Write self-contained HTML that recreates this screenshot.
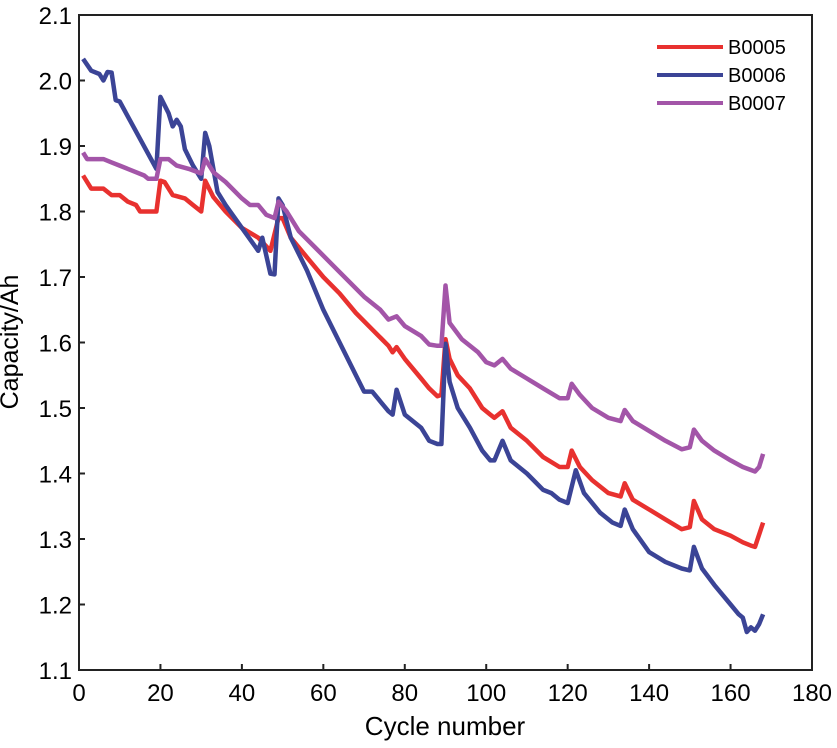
<!DOCTYPE html>
<html><head><meta charset="utf-8"><style>
html,body{margin:0;padding:0;background:#fff;}
svg{display:block;font-family:"Liberation Sans",Arial,sans-serif;}
</style></head><body>
<svg id="chart" width="837" height="748" viewBox="0 0 837 748">
<rect x="79" y="15" width="733" height="655" fill="none" stroke="#222" stroke-width="2"/>
<g id="ticks"></g>
<g id="series"></g>
<text x="18" y="342" font-size="25" text-anchor="middle" transform="rotate(-90 18 342)">Capacity/Ah</text>
<text x="445" y="735" font-size="26" text-anchor="middle">Cycle number</text>
<g>
<line x1="657" y1="47" x2="723" y2="47" stroke="#e8312f" stroke-width="4"/>
<text x="728" y="54" font-size="20">B0005</text>
<line x1="657" y1="75" x2="723" y2="75" stroke="#3b4496" stroke-width="4"/>
<text x="728" y="82" font-size="20">B0006</text>
<line x1="657" y1="103" x2="723" y2="103" stroke="#a355a8" stroke-width="4"/>
<text x="728" y="110" font-size="20">B0007</text>
</g>
</svg>
<script>
const xTicks=[0,20,40,60,80,100,120,140,160,180];
const yTicks=[1.1,1.2,1.3,1.4,1.5,1.6,1.7,1.8,1.9,2.0,2.1];
const yTickLabels=["1.1","1.2","1.3","1.4","1.5","1.6","1.7","1.8","1.9","2.0","2.1"];
const b0005=[[1,1.855],[3,1.835],[6,1.835],[8,1.825],[10,1.825],[12,1.815],[14,1.81],[15,1.8],[19,1.8],[20,1.847],[21,1.845],[23,1.825],[26,1.82],[28,1.81],[30,1.8],[31,1.847],[33,1.822],[36,1.8],[40,1.775],[44,1.76],[47,1.74],[49,1.79],[50,1.79],[52,1.76],[56,1.73],[60,1.7],[64,1.675],[68,1.645],[72,1.62],[76,1.595],[77,1.585],[78,1.593],[80,1.575],[84,1.545],[86,1.53],[88,1.518],[89,1.52],[90,1.605],[91,1.575],[93,1.55],[96,1.53],[99,1.5],[101,1.49],[102,1.485],[104,1.495],[106,1.47],[110,1.45],[114,1.425],[118,1.41],[120,1.41],[121,1.435],[123,1.41],[126,1.39],[130,1.37],[133,1.365],[134,1.385],[136,1.36],[140,1.345],[144,1.33],[148,1.315],[150,1.318],[151,1.358],[153,1.33],[156,1.315],[160,1.305],[163,1.295],[165,1.29],[166,1.288],[168,1.325]];
const b0006=[[1,2.033],[3,2.015],[5,2.01],[6,2.0],[7,2.013],[8,2.012],[9,1.97],[10,1.968],[19,1.865],[20,1.975],[22,1.95],[23,1.93],[24,1.94],[25,1.93],[26,1.895],[28,1.87],[30,1.85],[31,1.92],[32,1.9],[34,1.83],[36,1.81],[40,1.775],[44,1.74],[45,1.76],[47,1.705],[48,1.704],[49,1.82],[50,1.81],[52,1.76],[56,1.71],[60,1.65],[64,1.6],[68,1.55],[70,1.525],[72,1.525],[76,1.495],[77,1.49],[78,1.528],[80,1.49],[84,1.47],[86,1.45],[88,1.445],[89,1.445],[90,1.598],[91,1.54],[93,1.5],[96,1.47],[99,1.435],[101,1.42],[102,1.42],[104,1.45],[106,1.42],[110,1.4],[114,1.375],[116,1.37],[118,1.36],[120,1.355],[122,1.405],[124,1.37],[128,1.34],[131,1.325],[133,1.32],[134,1.345],[136,1.315],[140,1.28],[144,1.265],[148,1.255],[150,1.252],[151,1.288],[153,1.255],[156,1.23],[160,1.2],[162,1.185],[163,1.18],[164,1.158],[165,1.165],[166,1.16],[167,1.17],[168,1.185]];
const b0007=[[1,1.89],[2,1.88],[6,1.88],[8,1.875],[10,1.87],[12,1.865],[14,1.86],[16,1.855],[17,1.85],[19,1.85],[20,1.88],[22,1.88],[24,1.87],[27,1.865],[30,1.858],[31,1.88],[33,1.86],[36,1.845],[40,1.82],[42,1.81],[44,1.81],[46,1.795],[48,1.79],[49,1.815],[51,1.8],[54,1.77],[58,1.745],[62,1.72],[66,1.695],[70,1.67],[74,1.65],[76,1.635],[78,1.64],[80,1.625],[84,1.61],[86,1.597],[88,1.595],[89,1.595],[90,1.687],[91,1.63],[94,1.605],[98,1.585],[100,1.57],[102,1.565],[104,1.575],[106,1.56],[110,1.545],[114,1.53],[118,1.515],[120,1.515],[121,1.537],[123,1.52],[126,1.5],[130,1.485],[133,1.48],[134,1.497],[136,1.48],[140,1.465],[144,1.45],[148,1.437],[150,1.44],[151,1.467],[153,1.45],[156,1.435],[160,1.42],[163,1.41],[166,1.403],[167,1.41],[168,1.43]];

const X0=79,X1=812,Y0=670,Y1=15;
function xs(v){return X0+(v-0)/180*(X1-X0);}
function ys(v){return Y0-(v-1.1)/1.0*(Y0-Y1);}
const NS="http://www.w3.org/2000/svg";
const tg=document.getElementById('ticks');
xTicks.forEach(t=>{
  const l=document.createElementNS(NS,'line');
  l.setAttribute('x1',xs(t));l.setAttribute('x2',xs(t));l.setAttribute('y1',Y0);l.setAttribute('y2',Y0-6);
  l.setAttribute('stroke','#222');l.setAttribute('stroke-width','2');
  
  
  tg.appendChild(l);
  const tx=document.createElementNS(NS,'text');
  tx.setAttribute('x',xs(t));tx.setAttribute('y',Y0+31);tx.setAttribute('font-size','24');tx.setAttribute('text-anchor','middle');
  tx.textContent=String(t);
  
  
  tg.appendChild(tx);
});
yTicks.forEach((t,i)=>{
  const l=document.createElementNS(NS,'line');
  l.setAttribute('x1',X0);l.setAttribute('x2',X0+6);l.setAttribute('y1',ys(t));l.setAttribute('y2',ys(t));
  l.setAttribute('stroke','#222');l.setAttribute('stroke-width','2');
  
  
  tg.appendChild(l);
  const tx=document.createElementNS(NS,'text');
  tx.setAttribute('x',X0-7);tx.setAttribute('y',ys(t)+9);tx.setAttribute('font-size','24');tx.setAttribute('text-anchor','end');
  tx.textContent=yTickLabels[i];
  
  
  tg.appendChild(tx);
});
const sg=document.getElementById('series');
[[b0005,'#e8312f','series-b0005'],[b0006,'#3b4496','series-b0006'],[b0007,'#a355a8','series-b0007']].forEach(s=>{
  const p=document.createElementNS(NS,'polyline');
  p.setAttribute('points',s[0].map(d=>xs(d[0]).toFixed(1)+','+ys(d[1]).toFixed(1)).join(' '));
  p.setAttribute('fill','none');p.setAttribute('stroke',s[1]);p.setAttribute('stroke-width','4.5');p.setAttribute('stroke-linejoin','round');
  
  
  sg.appendChild(p);
});
</script>
</body></html>
